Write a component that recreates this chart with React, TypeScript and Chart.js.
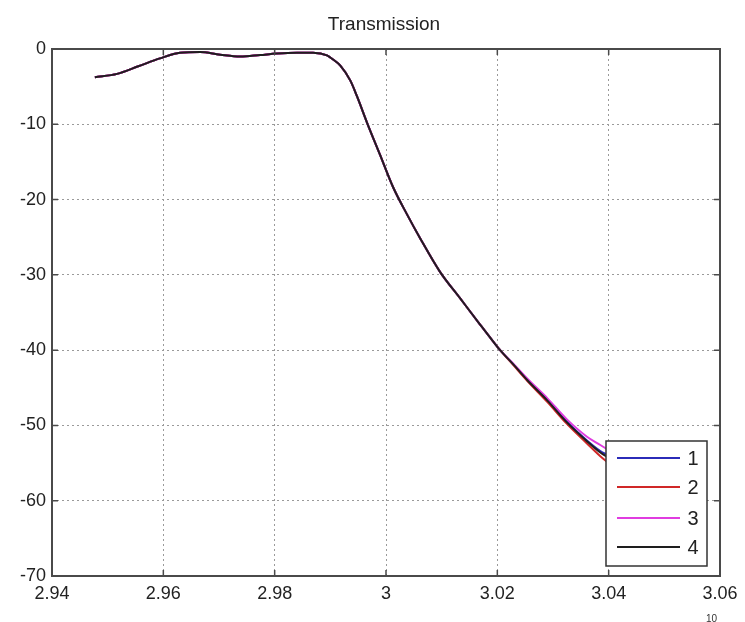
import React, { useEffect, useRef } from "react";
import { Chart, registerables } from "chart.js";

Chart.register(...registerables);

const titleText = "Transmission";
const xTicks = [2.94, 2.96, 2.98, 3.0, 3.02, 3.04, 3.06];
const yTicks = [0, -10, -20, -30, -40, -50, -60, -70];
const exponentText = "10";

const xs = [
  2.9477, 2.9517, 2.9555, 2.9594, 2.963, 2.9666, 2.9702, 2.9738, 2.9774, 2.9804,
  2.984, 2.9869, 2.9894, 2.9905, 2.9918, 2.9936, 2.9948, 2.9966, 2.9989, 3.0013,
  3.0038, 3.0061, 3.0097, 3.0133, 3.0169, 3.0192, 3.0205, 3.023, 3.0254, 3.029,
  3.0325, 3.0361, 3.0385, 3.0398,
];

const series1 = [
  -3.75, -3.3, -2.3, -1.25, -0.5, -0.4, -0.75, -1.0, -0.8, -0.6,
  -0.5, -0.5, -0.85, -1.4, -2.2, -4.2, -6.3, -9.8, -14.0, -18.4,
  -22.0, -25.1, -29.6, -33.1, -36.6, -38.8, -40.0, -42.0, -44.0, -46.7,
  -49.5, -52.0, -53.4, -53.9,
];
const series2 = [
  -3.75, -3.3, -2.3, -1.25, -0.5, -0.4, -0.75, -1.0, -0.8, -0.6,
  -0.5, -0.5, -0.85, -1.4, -2.2, -4.2, -6.3, -9.8, -14.0, -18.4,
  -22.0, -25.1, -29.6, -33.1, -36.6, -38.8, -40.0, -42.1, -44.1, -46.9,
  -49.8, -52.4, -54.1, -54.9,
];
const series3 = [
  -3.75, -3.3, -2.3, -1.25, -0.5, -0.4, -0.75, -1.0, -0.8, -0.6,
  -0.5, -0.5, -0.85, -1.4, -2.2, -4.2, -6.3, -9.8, -14.0, -18.4,
  -22.0, -25.1, -29.6, -33.1, -36.6, -38.8, -40.0, -41.9, -43.8, -46.4,
  -49.2, -51.5, -52.6, -53.2,
];
const series4 = [
  -3.75, -3.3, -2.3, -1.25, -0.5, -0.4, -0.75, -1.0, -0.8, -0.6,
  -0.5, -0.5, -0.85, -1.4, -2.2, -4.2, -6.3, -9.8, -14.0, -18.4,
  -22.0, -25.1, -29.6, -33.1, -36.6, -38.8, -40.0, -42.0, -44.0, -46.7,
  -49.6, -52.1, -53.6, -54.2,
];

const seriesLabels = ["1", "2", "3", "4"];
const seriesValues = [series1, series2, series3, series4];
const seriesColors = ["#2b2bb8", "#d02828", "#e03ce0", "#1e1e1e"];

const FONT = "'Liberation Sans', Arial, sans-serif";

const framePlugin = {
  id: "matlabFrame",
  afterDraw(chart: any) {
    const ctx = chart.ctx;
    const { left, right, top, bottom } = chart.chartArea;
    const xs_ = chart.scales.x;
    const ys_ = chart.scales.y;
    ctx.save();
    // title
    ctx.fillStyle = "#222";
    ctx.font = `19px ${FONT}`;
    ctx.textAlign = "center";
    ctx.textBaseline = "middle";
    ctx.fillText(titleText, (left + right) / 2 - 2, 25);
    // frame
    ctx.strokeStyle = "#4a4a4a";
    ctx.lineWidth = 2;
    ctx.strokeRect(left, top, right - left, bottom - top);
    // inner ticks
    ctx.lineWidth = 1.5;
    const tl = 6;
    xTicks.forEach((v) => {
      const px = xs_.getPixelForValue(v);
      ctx.beginPath();
      ctx.moveTo(px, bottom);
      ctx.lineTo(px, bottom - tl);
      ctx.moveTo(px, top);
      ctx.lineTo(px, top + tl);
      ctx.stroke();
    });
    yTicks.forEach((v) => {
      const py = ys_.getPixelForValue(v);
      ctx.beginPath();
      ctx.moveTo(left, py);
      ctx.lineTo(left + tl, py);
      ctx.moveTo(right, py);
      ctx.lineTo(right - tl, py);
      ctx.stroke();
    });
    // exponent
    ctx.fillStyle = "#333";
    ctx.font = `10px ${FONT}`;
    ctx.textAlign = "left";
    ctx.textBaseline = "top";
    ctx.fillText(exponentText, 706, 614);
    // legend
    const lx = 606, ly = 441, lw = 101, lh = 125;
    ctx.fillStyle = "#fff";
    ctx.fillRect(lx, ly, lw, lh);
    ctx.strokeStyle = "#333";
    ctx.lineWidth = 1.5;
    ctx.strokeRect(lx, ly, lw, lh);
    const rowsY = [458, 487, 518, 547];
    chart.data.datasets.forEach((ds: any, i: number) => {
      const y = rowsY[i];
      ctx.strokeStyle = ds.borderColor;
      ctx.lineWidth = 2;
      ctx.beginPath();
      ctx.moveTo(617, y);
      ctx.lineTo(680, y);
      ctx.stroke();
      ctx.fillStyle = "#222";
      ctx.font = `20px ${FONT}`;
      ctx.textAlign = "center";
      ctx.textBaseline = "middle";
      ctx.fillText(ds.label, 693, y + 1);
    });
    ctx.restore();
  },
};

export default function App() {
  const ref = useRef<HTMLCanvasElement>(null);
  useEffect(() => {
    document.body.style.margin = "0";
    if (!ref.current) return;
    const chart = new Chart(ref.current, {
      type: "line",
      data: {
        datasets: seriesValues.map((vals, i) => ({
          label: seriesLabels[i],
          data: xs.map((x, j) => ({ x, y: vals[j] })),
          borderColor: seriesColors[i],
          backgroundColor: seriesColors[i],
          borderWidth: 2,
          pointRadius: 0,
          cubicInterpolationMode: "monotone" as const,
          fill: false,
          order: seriesValues.length - 1 - i,
        })),
      },
      options: {
        animation: false,
        responsive: false,
        layout: { padding: { top: 49, right: 25, left: 0, bottom: 0 } },
        plugins: {
          legend: { display: false },
          title: { display: false },
          tooltip: { enabled: false },
        },
        scales: {
          x: {
            type: "linear",
            min: 2.94,
            max: 3.06,
            afterBuildTicks: (scale: any) => {
              scale.ticks = xTicks.map((v) => ({ value: v }));
            },
            afterFit: (scale: any) => {
              scale.height = 46;
            },
            ticks: {
              padding: 7,
              color: "#222",
              font: { family: FONT, size: 18 },
              maxRotation: 0,
              autoSkip: false,
              callback: (v: any) => String(Number(Number(v).toFixed(2))),
            },
            grid: { color: "#9a9a9a", lineWidth: 1, drawTicks: false },
            border: { display: false, dash: [2, 3] },
          },
          y: {
            type: "linear",
            min: -70,
            max: 0,
            afterBuildTicks: (scale: any) => {
              scale.ticks = yTicks.map((v) => ({ value: v }));
            },
            afterFit: (scale: any) => {
              scale.width = 52;
            },
            ticks: {
              padding: 6,
              color: "#222",
              font: { family: FONT, size: 18 },
              autoSkip: false,
              callback: (v: any) => String(v),
            },
            grid: { color: "#9a9a9a", lineWidth: 1, drawTicks: false },
            border: { display: false, dash: [2, 3] },
          },
        },
      },
      plugins: [framePlugin],
    });
    return () => chart.destroy();
  }, []);
  return (
    <div style={{ width: 745, height: 622, background: "#fff" }}>
      <canvas ref={ref} width={745} height={622} />
    </div>
  );
}
